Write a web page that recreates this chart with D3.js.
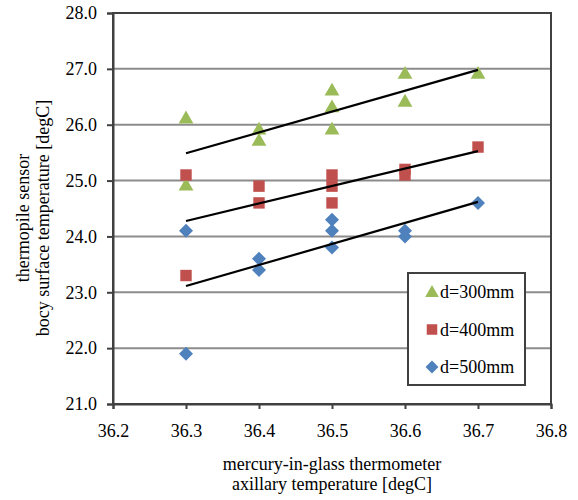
<!DOCTYPE html>
<html>
<head>
<meta charset="utf-8">
<script src="https://cdn.jsdelivr.net/npm/d3@7"></script>
<style>
  body { margin: 0; background: #fff; }
  svg text { font-family: "Liberation Serif", "Times New Roman", "DejaVu Serif", serif !important; }
</style>
</head>
<body>
<svg id="chart" width="578" height="500"></svg>
<script>
const d300x = [36.3, 36.3, 36.4, 36.4, 36.5, 36.5, 36.5, 36.6, 36.6, 36.7];
const d300y = [26.1, 24.9, 25.9, 25.7, 26.6, 26.3, 25.9, 26.9, 26.4, 26.9];
const d400x = [36.3, 36.3, 36.4, 36.4, 36.5, 36.5, 36.5, 36.6, 36.6, 36.7];
const d400y = [25.1, 23.3, 24.9, 24.6, 25.1, 24.9, 24.6, 25.2, 25.1, 25.6];
const d500x = [36.3, 36.3, 36.4, 36.4, 36.5, 36.5, 36.5, 36.6, 36.6, 36.7];
const d500y = [24.1, 21.9, 23.6, 23.4, 24.3, 24.1, 23.8, 24.1, 24.0, 24.6];
const xTicks = [36.2, 36.3, 36.4, 36.5, 36.6, 36.7, 36.8];
const yTicks = [21, 22, 23, 24, 25, 26, 27, 28];

const FONT = '"Liberation Serif", "Times New Roman", "DejaVu Serif", serif';
const FS = 18;

const series = [
    { name: "d=300mm", xs: d300x, ys: d300y, color: "#9BBB59", shape: d3.symbolTriangle, size: 95, rot: 0 },
    { name: "d=400mm", xs: d400x, ys: d400y, color: "#C0504D", shape: d3.symbolSquare, size: 130, rot: 0 },
    { name: "d=500mm", xs: d500x, ys: d500y, color: "#4F81BD", shape: d3.symbolSquare, size: 98, rot: 45 }
];

const svg = d3.select("#chart").attr("font-family", FONT);
const margin = { top: 13, right: 27, bottom: 96, left: 113 };
const width = 578 - margin.left - margin.right;
const height = 500 - margin.top - margin.bottom;

const chart = svg.append("g").attr("transform", `translate(${margin.left}, ${margin.top})`);

const x = d3.scaleLinear().domain([36.2, 36.8]).range([0, width]);
const y = d3.scaleLinear().domain([21, 28]).range([height, 0]);

// gridlines
chart.append("g").selectAll("line").data(yTicks.slice(1, -1)).join("line")
    .attr("x1", 0).attr("x2", width)
    .attr("y1", d => y(d)).attr("y2", d => y(d))
    .attr("stroke", "#8c8c8c").attr("stroke-width", 2);

// frame
chart.append("rect").attr("width", width).attr("height", height)
    .attr("fill", "none").attr("stroke", "#404040").attr("stroke-width", 2);

const yAxis = chart.append("g")
    .call(d3.axisLeft(y).tickValues(yTicks).tickFormat(d3.format(".1f")).tickSize(6).tickPadding(10));
const xAxis = chart.append("g").attr("transform", `translate(0, ${height})`)
    .call(d3.axisBottom(x).tickValues(xTicks).tickFormat(d3.format(".1f")).tickSize(5).tickPadding(15));
[yAxis, xAxis].forEach(a => {
    a.attr("font-family", FONT).attr("font-size", FS);
    a.select(".domain").attr("stroke", "#404040").attr("stroke-width", 2);
    a.selectAll(".tick line").attr("stroke", "#404040").attr("stroke-width", 2);
    a.selectAll(".tick text").attr("font-family", FONT).attr("font-size", FS).attr("fill", "#000");
});

// markers
series.forEach(s => {
    const pts = s.xs.map((v, i) => [v, s.ys[i]]);
    chart.append("g").selectAll("path").data(pts).join("path")
        .attr("d", d3.symbol(s.shape, s.size))
        .attr("transform", d => `translate(${x(d[0])}, ${y(d[1])}) rotate(${s.rot})`)
        .attr("fill", s.color);
});

// linear trend lines (least squares over each series)
series.forEach(s => {
    const mx = d3.mean(s.xs), my = d3.mean(s.ys);
    const sxy = d3.sum(s.xs, (v, i) => (v - mx) * (s.ys[i] - my));
    const sxx = d3.sum(s.xs, v => (v - mx) * (v - mx));
    const slope = sxy / sxx;
    const ends = d3.extent(s.xs);
    chart.append("line")
        .attr("x1", x(ends[0])).attr("y1", y(my + slope * (ends[0] - mx)))
        .attr("x2", x(ends[1])).attr("y2", y(my + slope * (ends[1] - mx)))
        .attr("stroke", "#000").attr("stroke-width", 2.2);
});

// legend
const legend = chart.append("g").attr("transform", `translate(${408 - margin.left}, ${273 - margin.top})`);
legend.append("rect").attr("width", 117).attr("height", 112)
    .attr("fill", "#fff").attr("stroke", "#404040").attr("stroke-width", 2);
series.forEach((s, i) => {
    const row = legend.append("g").attr("transform", `translate(0, ${19 + i * 37.5})`);
    row.append("path").attr("d", d3.symbol(s.shape, s.size * 0.85))
        .attr("transform", `translate(24, ${s.shape === d3.symbolTriangle ? 1 : 0}) rotate(${s.rot})`)
        .attr("fill", s.color);
    row.append("text").attr("x", 32).attr("y", 6).attr("font-size", FS).text(s.name);
});

// axis titles
const xt = svg.append("text").attr("text-anchor", "middle").attr("font-size", FS);
xt.append("tspan").attr("x", margin.left + width / 2).attr("y", 470).text("mercury-in-glass thermometer");
xt.append("tspan").attr("x", margin.left + width / 2).attr("y", 490).text("axillary temperature [degC]");

const yt = svg.append("text").attr("text-anchor", "middle").attr("font-size", FS)
    .attr("transform", "translate(0, 218) rotate(-90)");
yt.append("tspan").attr("x", 0).attr("y", 29).text("thermopile sensor");
yt.append("tspan").attr("x", 0).attr("y", 49).text("bocy surface temperature [degC]");
</script>
</body>
</html>
